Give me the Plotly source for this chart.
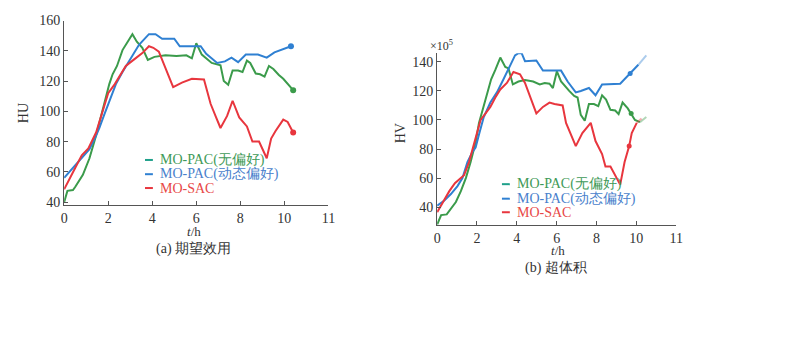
import plotly.graph_objects as go

# ---- data: (a) expected utility HU ----
hu_green_t = [0, 0.15, 0.4, 0.5, 0.85, 1.15, 1.45, 1.75, 2.05, 2.2, 2.4, 2.65, 2.9, 3.1, 3.3, 3.55,
              3.8, 4.1, 4.6, 5.1, 5.55, 5.8, 6.0, 6.25, 6.7, 6.9, 7.1, 7.25, 7.45, 7.65, 7.9, 8.1,
              8.3, 8.45, 8.7, 8.9, 9.1, 9.3, 9.5, 9.75, 9.95, 10.4]
hu_green = [40, 47.5, 48, 50, 58, 69, 84, 101, 118, 124.5, 130, 140.5, 146, 151, 146, 142,
            134, 136, 137, 136.5, 137, 135, 145, 137.5, 132, 131, 130.5, 120, 117.5, 127, 127, 126,
            133.5, 132, 125, 124.5, 123, 130, 128, 124, 121.5, 114]

hu_blue_t = [0, 0.25, 0.85, 1.15, 1.45, 1.6, 1.8, 2.05, 2.35, 2.65, 3.0, 3.4, 3.85, 4.15, 4.45,
             5.0, 5.25, 5.85, 6.2, 6.45, 6.95, 7.3, 7.6, 7.9, 8.25, 8.8, 9.2, 9.55, 10.3]
hu_blue = [56, 60, 70, 75, 84, 89, 97, 106, 118, 126, 134, 144, 151, 151, 148,
           148, 143, 143, 143, 138, 132, 133, 135.5, 132.5, 137.5, 137.5, 135.5, 139, 143]

hu_red_t = [0, 0.25, 0.5, 0.8, 1.1, 1.45, 1.75, 2.0, 2.3, 2.5, 2.8, 3.15, 3.55, 3.85, 4.05, 4.3,
            4.6, 4.95, 5.35, 5.8, 6.35, 6.65, 6.9, 7.1, 7.4, 7.65, 7.95, 8.3, 8.55, 8.85, 9.2,
            9.4, 9.6, 9.95, 10.15, 10.4]
hu_red = [48.5, 56, 62.5, 71, 75.5, 86, 101, 112, 118, 122.5, 130, 134, 138.5, 143, 142, 139.5,
          129, 116, 119, 121.5, 121, 105, 96, 89, 97, 107, 96, 90, 80, 80, 69,
          82, 87, 94.5, 93, 86]

# ---- data: (b) hypervolume HV (x10^5) ----
hv_green_t = [0, 0.2, 0.48, 0.69, 0.94, 1.19, 1.44, 1.68, 1.93, 2.1, 2.34, 2.51, 2.71, 2.92, 3.17,
              3.42, 3.58, 3.8, 4.08, 4.41, 4.82, 5.15, 5.4, 5.64, 5.81, 6.01, 6.22, 6.63, 6.88,
              7.05, 7.21, 7.41, 7.62, 7.87, 8.09, 8.28, 8.48, 8.7, 8.94, 9.11, 9.31, 9.57, 9.74,
              9.93, 10.18, 10.5]
hv_green = [28, 34.5, 35, 39, 43.5, 51, 60, 71, 84.5, 98, 110, 118, 128, 134.5, 143,
            136.5, 135.5, 124.5, 126.5, 127.5, 126.5, 124.5, 125.5, 125, 122, 133.5, 126.5, 120, 116.5,
            115.5, 103.5, 99.5, 111, 111, 109.5, 117, 114, 107, 106.5, 104, 112, 108, 104.5,
            100, 98.5, 102]

hv_blue_t = [0, 0.36, 0.69, 1.02, 1.27, 1.52, 1.77, 1.93, 2.1, 2.34, 2.67, 3.0, 3.33, 3.66, 3.91,
             4.08, 4.24, 4.41, 4.98, 5.31, 5.97, 6.22, 6.55, 6.96, 7.21, 7.62, 7.95, 8.28, 9.19,
             9.69, 10.1, 10.5]
hv_blue = [41, 44.5, 49, 54.5, 60, 71, 78, 81, 90, 102, 112, 119, 128, 138, 144.5,
           146, 146, 140.5, 141, 134, 134, 134, 126.5, 119, 120, 122, 117, 124.5, 125,
           132, 138, 144.5]

hv_red_t = [0, 0.28, 0.61, 0.89, 1.16, 1.35, 1.6, 1.93, 2.18, 2.43, 2.67, 2.92, 3.17, 3.5, 3.83,
            4.16, 4.41, 4.98, 5.31, 5.64, 5.89, 6.3, 6.47, 6.96, 7.29, 7.71, 7.95, 8.28, 8.45,
            8.7, 9.19, 9.41, 9.64, 9.77, 10.02, 10.26]
hv_red = [36.5, 43.5, 51, 56.5, 60, 62, 71, 86.5, 100, 104.5, 109, 115.5, 121, 125.5, 133,
          131.5, 125.5, 104.5, 109, 112, 111, 110, 98, 82, 91, 98, 85.5, 76.5, 68,
          68, 55.5, 71, 82, 91, 98, 101]

series_names = ["MO-PAC(无偏好)", "MO-PAC(动态偏好)", "MO-SAC"]
x_tickvals = [0, 2, 4, 6, 8, 10, 12]
x_ticktext = ["0", "2", "4", "6", "8", "10", "11"]
hu_ticks = [40, 60, 80, 100, 120, 140, 160]
hv_ticks = [40, 60, 80, 100, 120, 140]

GREEN, BLUE, RED = "#3b9b4b", "#2f80d2", "#e8363e"
LEG_GREEN_MARK = "#1fa08a"
TXT_GREEN, TXT_BLUE, TXT_RED = "#3f9a58", "#4a7fcc", "#e84848"
AX = "#555555"
SERIF = "Liberation Serif"
CJK = "Liberation Serif"

W, H = 787, 345


def px(x):
    return x / W


def py(y):
    return 1 - y / H


fig = go.Figure()

# (a) lines with an end dot
for t, v, c in [(hu_green_t, hu_green, GREEN), (hu_blue_t, hu_blue, BLUE), (hu_red_t, hu_red, RED)]:
    fig.add_trace(go.Scatter(x=t, y=v, mode="lines", line=dict(color=c, width=2),
                             xaxis="x", yaxis="y", showlegend=False))
    fig.add_trace(go.Scatter(x=t[-1:], y=v[-1:], mode="markers", marker=dict(color=c, size=6),
                             xaxis="x", yaxis="y", showlegend=False))

# (b) lines, last segment fading out, small dot near t = 9.7
for t, v, c in [(hv_green_t, hv_green, GREEN), (hv_blue_t, hv_blue, BLUE), (hv_red_t, hv_red, RED)]:
    fig.add_trace(go.Scatter(x=t[:-1], y=v[:-1], mode="lines", line=dict(color=c, width=2),
                             xaxis="x2", yaxis="y2", showlegend=False))
    fig.add_trace(go.Scatter(x=t[-2:], y=v[-2:], mode="lines", line=dict(color=c, width=2),
                             opacity=0.4, xaxis="x2", yaxis="y2", showlegend=False))
    k = min(range(len(t)), key=lambda i: abs(t[i] - 9.7))
    fig.add_trace(go.Scatter(x=[t[k]], y=[v[k]], mode="markers", marker=dict(color=c, size=5),
                             xaxis="x2", yaxis="y2", showlegend=False))

axis_common = dict(showline=True, linecolor=AX, linewidth=1, ticks="inside", ticklen=4,
                   tickcolor=AX, showgrid=False, zeroline=False,
                   tickfont=dict(family=SERIF, size=14, color="#333333"))

fig.update_layout(
    width=W, height=H, margin=dict(l=0, r=0, t=0, b=0),
    paper_bgcolor="white", plot_bgcolor="white", showlegend=False,
    font=dict(family=SERIF),
    xaxis=dict(domain=[px(61), px(329)], range=[0, 12], tickvals=x_tickvals, ticktext=x_ticktext,
               anchor="y", **axis_common),
    yaxis=dict(domain=[py(205), py(14)], range=[37.8, 160], tickvals=hu_ticks, anchor="x",
               **axis_common),
    xaxis2=dict(domain=[px(439.3), px(681.7)], range=[0, 12], tickvals=x_tickvals,
                ticktext=x_ticktext, anchor="y2", **axis_common),
    yaxis2=dict(domain=[py(225), py(47.7)], range=[27.8, 146],
                tickvals=hv_ticks + [146], ticktext=[str(v) for v in hv_ticks] + [""],
                anchor="x2", **axis_common),
)

ann = []


def text(x, y, s, size=14, color="#333333", family=SERIF, angle=0, xanchor="center"):
    ann.append(dict(x=px(x), y=py(y), xref="paper", yref="paper", text=s, showarrow=False,
                    font=dict(family=family, size=size, color=color), textangle=angle,
                    xanchor=xanchor, yanchor="middle"))


# axis titles and captions
text(20, 110, "HU", angle=-90)
text(193, 232, "<i>t</i>/h", size=13)
text(192, 250, "(a) 期望效用", family=CJK)
text(402, 130, "HV", angle=-90)
text(562, 252, "<i>t</i>/h", size=13)
text(560, 270, "(b) 超体积", family=CJK)
text(444, 40, "×10<sup>5</sup>", size=12)

# legends
shapes = []
legend_cols = [LEG_GREEN_MARK, BLUE, RED]
legend_txt = [TXT_GREEN, TXT_BLUE, TXT_RED]
for (x0, ys) in [(143, [158, 172.7, 187]), (505, [183, 198, 212])]:
    for name, mc, tc, y in zip(series_names, legend_cols, legend_txt, ys):
        shapes.append(dict(type="line", xref="paper", yref="paper", x0=px(x0), x1=px(x0 + 8),
                           y0=py(y), y1=py(y), line=dict(color=mc, width=2)))
        text(x0 + 13, y, name, color=tc, family=CJK, xanchor="left")

fig.update_layout(annotations=ann, shapes=shapes)
fig.write_html("out.html")
